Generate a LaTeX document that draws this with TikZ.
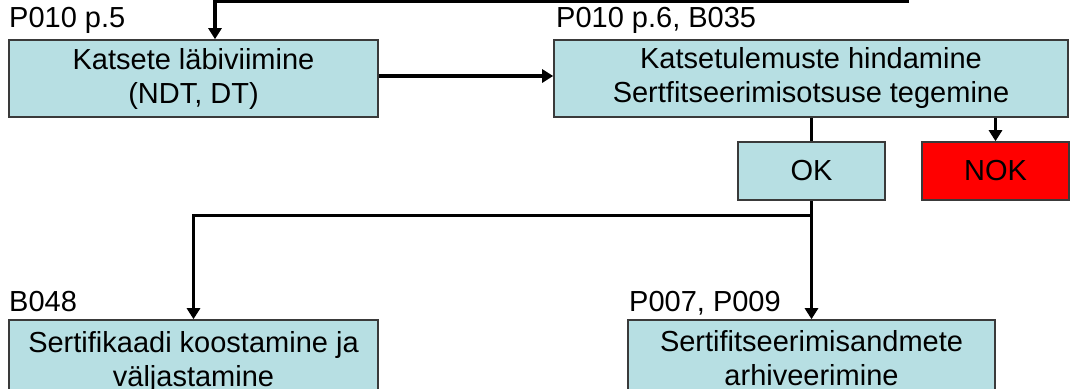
\documentclass[tikz,border=0pt]{standalone}
\usepackage{fontspec}
\setmainfont{Liberation Sans}
\usetikzlibrary{arrows.meta}
\definecolor{boxfill}{HTML}{B7DFE3}
\definecolor{boxline}{HTML}{3A3A3A}
\definecolor{nokred}{HTML}{FF0000}
\tikzset{
  stepbox/.style={draw=boxline, line width=1.6pt, fill=boxfill, inner sep=0pt,
    align=center, font=\fontsize{29}{34}\selectfont},
  redbox/.style={stepbox, fill=nokred},
  reflabel/.style={anchor=south west, inner sep=0pt, font=\fontsize{29}{34}\selectfont},
  conn/.style={line width=3.2pt, line cap=butt},
  arr/.style={conn, -{Triangle[length=11pt,width=13pt]}},
}
\begin{document}
\begin{tikzpicture}[x=1pt,y=-1pt]
\useasboundingbox (0,0) rectangle (1070,388);
\clip (0,0) rectangle (1070,388);
\node[stepbox, minimum width=369pt, minimum height=77pt] (b1) at (193.5,78.5)
  {Katsete läbiviimine\\(NDT, DT)};
\node[stepbox, minimum width=514pt, minimum height=77pt] (b2) at (811,78.5)
  {Katsetulemuste hindamine\\Sertfitseerimisotsuse tegemine};
\node[stepbox, minimum width=147pt, minimum height=58pt] (ok) at (811.5,171) {OK};
\node[redbox, minimum width=147pt, minimum height=58pt] (nok) at (995.5,171) {NOK};
\node[stepbox, minimum width=369pt, minimum height=77pt, text depth=0pt] (b4) at (193.5,358.5)
  {Sertifikaadi koostamine ja\\väljastamine};
\node[stepbox, minimum width=367pt, minimum height=77pt] (b5) at (811.5,358.5)
  {Sertifitseerimisandmete\\arhiveerimine};
% labels
\node[reflabel] (l1) at (9,34) {P010 p.5};
\node[reflabel] (l2) at (556,34) {P010 p.6, B035};
\node[reflabel] (l4) at (9,312) {B048};
\node[reflabel] (l5) at (629,315) {P007, P009};
% connectors
\coordinate (topend) at (909,1.5);
\coordinate (topcorner) at (215,1.5);
\coordinate (split) at (811.5,215.5);
\coordinate (leftcorner) at (193.5,215.5);
\draw[arr] (topend) -- (topcorner) -- (topcorner |- b1.north);
\draw[arr] (b1.east |- 0,76) -- (b2.west |- 0,76);
\draw[conn] (b2.south -| ok.north) -- (ok.north);
\draw[arr] (b2.south -| nok.north) -- (nok.north);
\draw[arr] (ok.south) -- (b5.north);
\draw[arr] (split) -- (leftcorner) -- (b4.north);
\end{tikzpicture}
\end{document}
